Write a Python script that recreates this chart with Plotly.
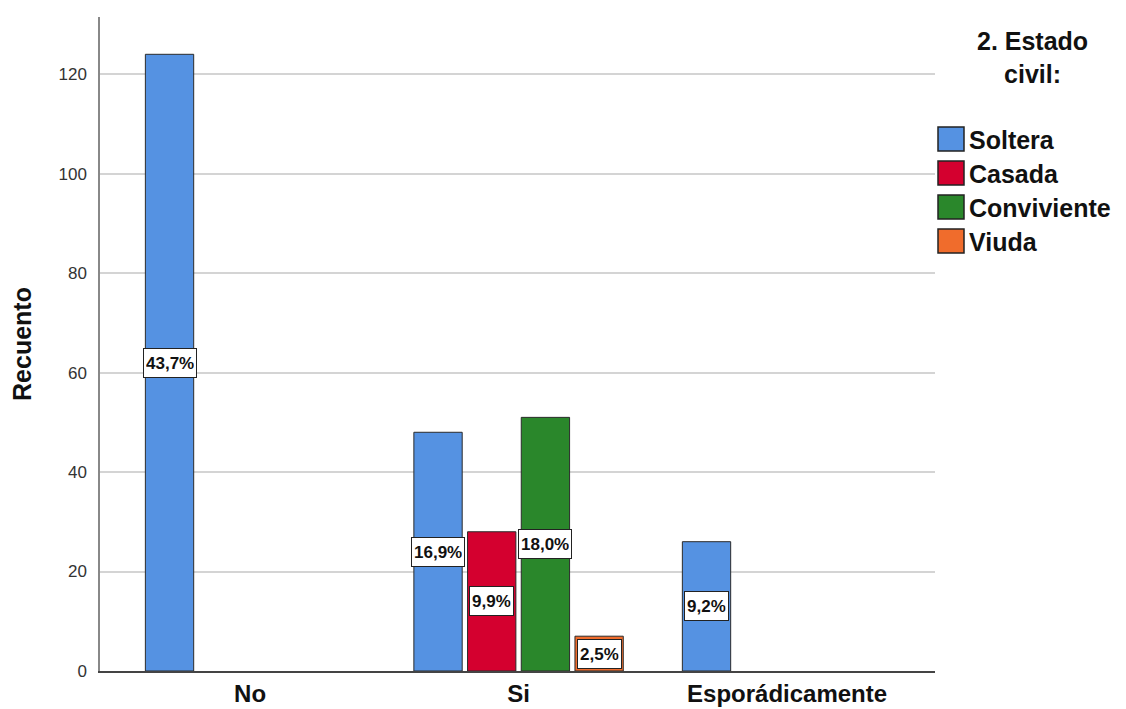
import plotly.graph_objects as go

# Counts per response and marital status
categories = ["No", "Si", "Esporádicamente"]
series_names = ["Soltera", "Casada", "Conviviente", "Viuda"]
soltera = [124, 48, 26]
casada = [None, 28, None]
conviviente = [None, 51, None]
viuda = [None, 7, None]
series_values = [soltera, casada, conviviente, viuda]
series_colors = ["#5592E2", "#D4002F", "#2A872B", "#F06C2C"]
y_ticks = [0, 20, 40, 60, 80, 100, 120]
legend_title = "2. Estado<br>civil:"

FONT = "Liberation Sans, Arial, sans-serif"
W, H = 1126, 709
PL, PR, PT, PB = 100, 935, 17, 671  # plot area in pixels


def px_x(px):
    return (px - PL) / (PR - PL)


def px_y(py):
    return (PB - py) / (PB - PT)


total = sum(v for s in series_values for v in s if v is not None)

fig = go.Figure()
for name, vals, color in zip(series_names, series_values, series_colors):
    fig.add_trace(go.Bar(
        name=name, x=categories, y=vals,
        marker=dict(color=color, line=dict(color="#2b2b2b", width=1)),
        showlegend=False, hoverinfo="x+y+name",
    ))

# Percentage labels centred inside each bar
n = len(series_names)
slot = 0.8 / n
annotations = []
for i, vals in enumerate(series_values):
    offset = -0.4 + slot / 2 + i * slot
    for j, v in enumerate(vals):
        if v is None:
            continue
        pct = f"{v / total * 100:.1f}".replace(".", ",") + "%"
        annotations.append(dict(
            x=j + offset, y=v / 2, xref="x", yref="y", text=f"<b>{pct}</b>",
            showarrow=False, font=dict(family=FONT, size=17, color="#111"),
            bgcolor="white", bordercolor="#222", borderwidth=1, borderpad=2,
            height=24, xanchor="center", yanchor="middle",
        ))

# Legend drawn beside the plot
shapes = []
annotations.append(dict(
    x=px_x(1032), y=px_y(58), xref="paper", yref="paper", text=f"<b>{legend_title}</b>",
    showarrow=False, align="center", xanchor="center", yanchor="middle",
    font=dict(family=FONT, size=25, color="#111"),
))
for i, (name, color) in enumerate(zip(series_names, series_colors)):
    cy = 139 + 34 * i
    shapes.append(dict(
        type="rect", xref="paper", yref="paper",
        x0=px_x(938), x1=px_x(964), y0=px_y(cy + 12), y1=px_y(cy - 12),
        fillcolor=color, line=dict(color="#222", width=1.5),
    ))
    annotations.append(dict(
        x=px_x(967), y=px_y(cy + 1), xref="paper", yref="paper", text=f"<b>{name}</b>",
        showarrow=False, xanchor="left", yanchor="middle",
        font=dict(family=FONT, size=25, color="#111"),
    ))

fig.update_layout(
    width=W, height=H,
    margin=dict(l=PL, r=W - PR, t=PT, b=H - PB),
    paper_bgcolor="white", plot_bgcolor="white",
    barmode="group", bargap=0.2, bargroupgap=0.1,
    font=dict(family=FONT, color="#222"),
    annotations=annotations, shapes=shapes,
    xaxis=dict(
        type="category", range=[-0.559, 2.551], showgrid=False,
        showline=True, linecolor="#444", linewidth=1.5, ticks="",
        tickfont=dict(family=FONT, size=24, color="#111"),
        ticklabelstandoff=0, automargin=False, zeroline=False,
        tickprefix="<b>", ticksuffix="</b>",
    ),
    yaxis=dict(
        range=[0, 131.5], tickvals=y_ticks, showgrid=True,
        gridcolor="#D4D4D4", gridwidth=1.5,
        showline=True, linecolor="#888", linewidth=1.5, ticks="",
        tickfont=dict(family=FONT, size=17, color="#333"),
        ticklabelstandoff=8, zeroline=False, automargin=False,
        title=dict(text="<b>Recuento</b>", font=dict(family=FONT, size=25, color="#111"),
                   standoff=20),
    ),
)

fig.write_html("out.html")
